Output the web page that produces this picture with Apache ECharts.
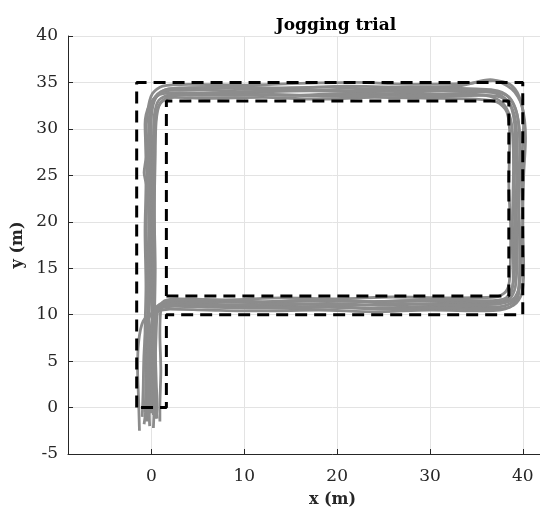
<!DOCTYPE html>
<html>
<head>
<meta charset="utf-8">
<title>Jogging trial</title>
<script src="https://cdn.jsdelivr.net/npm/echarts@6.0.0/dist/echarts.min.js"></script>
<style>
html, body { margin: 0; padding: 0; background: #fff; overflow: hidden; }
#chart { width: 597px; height: 516px; }
</style>
</head>
<body>
<div id="chart"></div>
<script>
// tick labels
var xTicks = [0, 10, 20, 30, 40];
var yTicks = [-5, 0, 5, 10, 15, 20, 25, 30, 35, 40];

// reference corridor (dashed)
var outerPath = [[-1.6, 0], [-1.6, 35], [40, 35], [40, 10], [1.6, 10], [1.6, 0], [-1.6, 0]];
var innerPath = [[1.6, 12], [38.5, 12], [38.5, 33], [1.6, 33], [1.6, 12]];

// measured laps (grey)
var lap1 = [[0.2,-0.8],[0.1,2],[0.0,6],[0.1,10],[0.2,14],[0.3,20],[0.3,26],[0.4,30],[0.6,32],[1.2,33.0],[2.5,33.4],[6,33.3],[12,33.4],[18,33.2],[24,33.4],[30,33.3],[35,33.2],[37.2,32.9],[38.3,31.8],[38.6,29],[38.5,24],[38.7,19],[38.6,14],[38.2,12.5],[37,11.9],[32,11.8],[26,11.9],[20,11.7],[14,11.8],[8,11.6],[3,11.7],[1.4,11.5],[0.7,10.5],[0.5,8],[0.4,4],[0.5,0],[0.6,-1.2]];
var lap2 = [[-0.5,-1.5],[-0.6,2],[-0.5,7],[-0.4,12],[-0.6,18],[-0.5,24],[-0.6,29],[-0.4,32],[0.1,33.8],[1.2,34.6],[4,34.8],[10,34.7],[16,34.9],[22,35.0],[28,34.8],[34,34.9],[36.8,35.2],[38.6,34.8],[39.6,33.5],[40.1,31],[39.9,26],[40.0,20],[39.8,15],[39.5,12],[38.6,10.8],[36,10.4],[30,10.5],[24,10.3],[18,10.5],[12,10.4],[6,10.5],[2,10.6],[0.2,10.2],[-0.9,9.3],[-1.4,7],[-1.5,4],[-1.4,1],[-1.3,-2.5]];
var lap3 = [[-0.2,-2],[-0.3,1],[-0.2,5],[-0.3,9],[-0.2,15],[-0.1,21],[-0.2,27],[-0.1,31],[0.3,33.2],[1.5,34.1],[5,34.2],[11,34.0],[17,34.1],[23,34.0],[29,34.2],[34,34.0],[36.8,33.9],[38.4,33.0],[39.2,31],[39.4,27],[39.3,22],[39.4,17],[39.2,13],[38.5,11.6],[36.5,11.1],[31,11.2],[25,11.0],[19,11.2],[13,11.0],[7,11.1],[2.5,11.2],[0.8,10.8],[0.3,9],[0.1,5],[0.0,1],[-0.1,-0.6]];
var lap4 = [[0.4,-1.2],[0.3,2],[0.2,6],[0.0,11],[-0.1,16],[0.0,22],[-0.1,28],[0.0,31.5],[0.5,33.4],[1.8,34.3],[6,34.4],[12,34.3],[18,34.5],[24,34.3],[30,34.4],[35,34.3],[37.3,34.1],[38.7,33.2],[39.5,31],[39.7,27],[39.6,21],[39.7,16],[39.5,12.5],[38.7,11.2],[36.5,10.8],[30,10.9],[24,10.7],[18,10.9],[12,10.8],[6,10.9],[2,11.0],[0.5,10.6],[0.0,9],[-0.1,5],[-0.2,1],[-0.3,-1.3]];
var lap5 = [[-0.7,-0.5],[-0.6,3],[-0.7,8],[-0.6,13],[-0.7,19],[-0.6,24],[-0.8,25.3],[-0.6,27],[-0.7,30.5],[-0.2,32.6],[0.9,33.7],[3,33.9],[9,33.8],[15,33.6],[21,33.8],[27,33.7],[33,33.8],[36.5,33.5],[38.0,32.6],[38.8,30.5],[39.0,26],[38.9,20],[39.0,15],[38.8,12.5],[37.8,11.4],[35,11.3],[29,11.5],[23,11.4],[17,11.5],[11,11.3],[5,11.4],[1.8,11.3],[1.0,10.5],[0.9,8],[1.0,4],[0.9,0],[0.9,-1.5]];
var lap6 = [[0.0,-0.5],[0.1,3],[0.2,8],[0.1,12],[0.2,18],[0.1,23],[0.2,29],[0.3,31.5],[0.8,33.1],[2.2,33.7],[7,33.6],[13,33.7],[19,33.5],[25,33.6],[31,33.5],[36,33.6],[37.9,33.3],[38.8,32.2],[39.2,29],[39.1,24],[39.2,18],[39.0,13.5],[38.2,11.8],[36,11.5],[30,11.6],[24,11.4],[18,11.6],[12,11.4],[6,11.6],[2,11.5],[0.6,10.9],[0.2,9.5],[-0.3,7],[-0.5,3],[-0.6,0],[-0.8,-1.8]];
var lap7 = [[-0.4,-1],[-0.4,3],[-0.3,9],[-0.4,14],[-0.3,20],[-0.4,26],[-0.3,30],[0.0,32.8],[1.0,34.0],[3,34.4],[9,34.5],[15,34.4],[21,34.6],[27,34.5],[33,34.6],[36.5,35.3],[38.8,34.3],[39.9,32.5],[40.3,29],[40.1,25],[40.0,20],[40.1,15],[39.9,12.3],[39.0,11.0],[37,10.6],[31,10.7],[25,10.6],[19,10.8],[13,10.7],[7,10.8],[2.5,10.9],[0.3,10.4],[-0.5,9],[-0.8,6],[-0.9,2],[-1.0,-1]];
var lap8 = [[0.2,-2.2],[0.3,1],[0.2,4],[0.3,9],[0.4,15],[0.3,21],[0.4,27],[0.5,30.8],[0.9,32.7],[2.0,33.5],[5,33.8],[10,34.0],[16,34.2],[22,34.1],[28,34.0],[34,34.2],[37.0,34.0],[38.5,33.4],[39.4,31.5],[39.7,28],[39.5,23],[39.7,17],[39.6,13],[39.0,11.7],[37.5,11.2],[33,11.0],[27,11.2],[21,11.0],[15,11.2],[9,11.0],[4,11.1],[1.2,11.0],[0.5,10.0],[0.4,7],[0.5,3],[0.6,0],[0.5,-1]];
var laps = [lap1, lap2, lap3, lap4, lap5, lap6, lap7, lap8];

var serifFont = 'DejaVu Serif';
var textColor = '#262626';

var series = laps.map(function(lap) {
	return {
		type : 'line',
		data : lap,
		showSymbol : false,
		smooth : 0.3,
		lineStyle : { color : '#8c8c8c', width : 2.8 },
		z : 2,
		silent : true
	};
});

[outerPath, innerPath].forEach(function(path) {
	series.push({
		type : 'line',
		data : path,
		showSymbol : false,
		lineStyle : { color : '#000', width : 3, type : [12, 7] },
		z : 3,
		silent : true
	});
});

var option = {
	animation : false,
	title : {
		text : 'Jogging trial',
		left : 331,
		top : 12,
		textAlign : 'center',
		textStyle : { fontFamily : serifFont, fontSize : 17, fontWeight : 'bold', color : '#000' }
	},
	// plot runs past the right edge of the window (cropped like the original)
	grid : { left : 68, top : 36, bottom : 62, right : 0 },
	xAxis : {
		type : 'value',
		min : -9,
		max : 48,
		name : 'x (m)',
		nameLocation : 'middle',
		nameGap : 38,
		nameTextStyle : { fontFamily : serifFont, fontSize : 16, fontWeight : 'bold', color : textColor },
		axisLine : { onZero : false, lineStyle : { color : textColor } },
		axisTick : { inside : true, length : 5, customValues : xTicks, lineStyle : { color : textColor } },
		axisLabel : { customValues : xTicks, margin : 14, fontFamily : serifFont, fontSize : 17, color : textColor },
		splitLine : { show : true, lineStyle : { color : '#e3e3e3' } }
	},
	yAxis : {
		type : 'value',
		min : -5,
		max : 40,
		interval : 5,
		name : 'y (m)',
		nameLocation : 'middle',
		nameGap : 42,
		nameTextStyle : { fontFamily : serifFont, fontSize : 16, fontWeight : 'bold', color : textColor },
		axisLine : { show : true, onZero : false, lineStyle : { color : textColor } },
		axisTick : { show : true, inside : true, length : 5, lineStyle : { color : textColor } },
		axisLabel : { margin : 10, fontFamily : serifFont, fontSize : 17, color : textColor },
		splitLine : { show : true, lineStyle : { color : '#e3e3e3' } }
	},
	series : series
};

var chart = echarts.init(document.getElementById('chart'));
chart.setOption(option);
</script>
</body>
</html>
